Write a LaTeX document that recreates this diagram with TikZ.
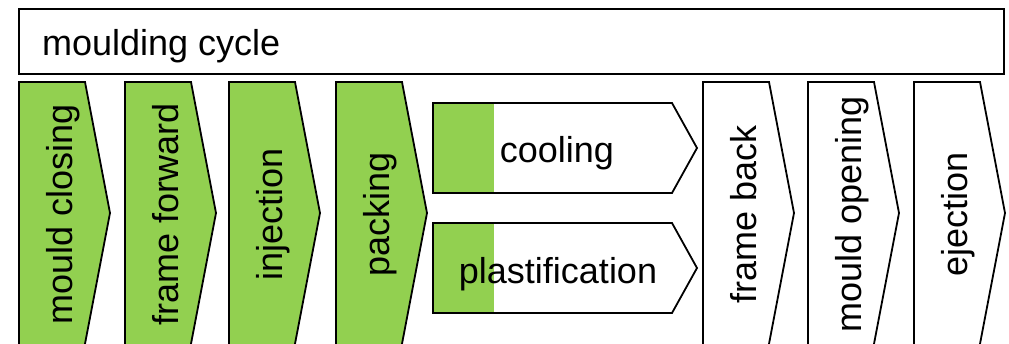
\documentclass[tikz,border=0pt]{standalone}
\usepackage{fontspec}
\setmainfont{Liberation Sans}
\definecolor{stepgreen}{RGB}{146,208,80}
\begin{document}
\begin{tikzpicture}[x=1pt,y=-1pt,
  outline/.style={draw=black,line width=1.8pt,line join=miter},
  label/.style={inner sep=0pt,font=\fontsize{36}{43}\selectfont},
  vlabel/.style={label,rotate=90,anchor=base}]
\useasboundingbox (0,0) rectangle (1009,343);
\clip (0,0) rectangle (1009,343);

% overall cycle bar
\draw[outline,fill=white] (19,9) rectangle (1004,74);
\node[label,anchor=base west] (cycle) at (42,55) {moulding cycle};

% vertical chevrons (lower end runs past the page edge): left edge, fill colour, name, text
\foreach \lx/\col/\nm/\txt in {19/stepgreen/close/mould closing,
                               125/stepgreen/fwd/frame forward,
                               229/stepgreen/inj/injection,
                               336/stepgreen/pack/packing,
                               703/white/back/frame back,
                               808/white/open/mould opening,
                               914/white/eject/ejection}{
  \draw[outline,fill=\col] (\lx,82) -- ++(66,0) -- ++(25,131) -- (\lx+65.2,348) -- (\lx,348) -- cycle;
  \node[vlabel] (\nm) at (\lx+53,214) {\txt};
}

% parallel phases with partial progress bar
\foreach \ty/\nm/\txt/\bx/\by in {103/cool/cooling/557/162, 223/plast/plastification/558/283}{
  \fill[white] (433,\ty) -- ++(239,0) -- ++(25,45) -- ++(-25,45) -- ++(-239,0) -- cycle;
  \fill[stepgreen] (433,\ty) rectangle ++(61,90);
  \node[label,anchor=base] (\nm) at (\bx,\by) {\txt};
  \draw[outline] (433,\ty) -- ++(239,0) -- ++(25,45) -- ++(-25,45) -- ++(-239,0) -- cycle;
}
\end{tikzpicture}
\end{document}
